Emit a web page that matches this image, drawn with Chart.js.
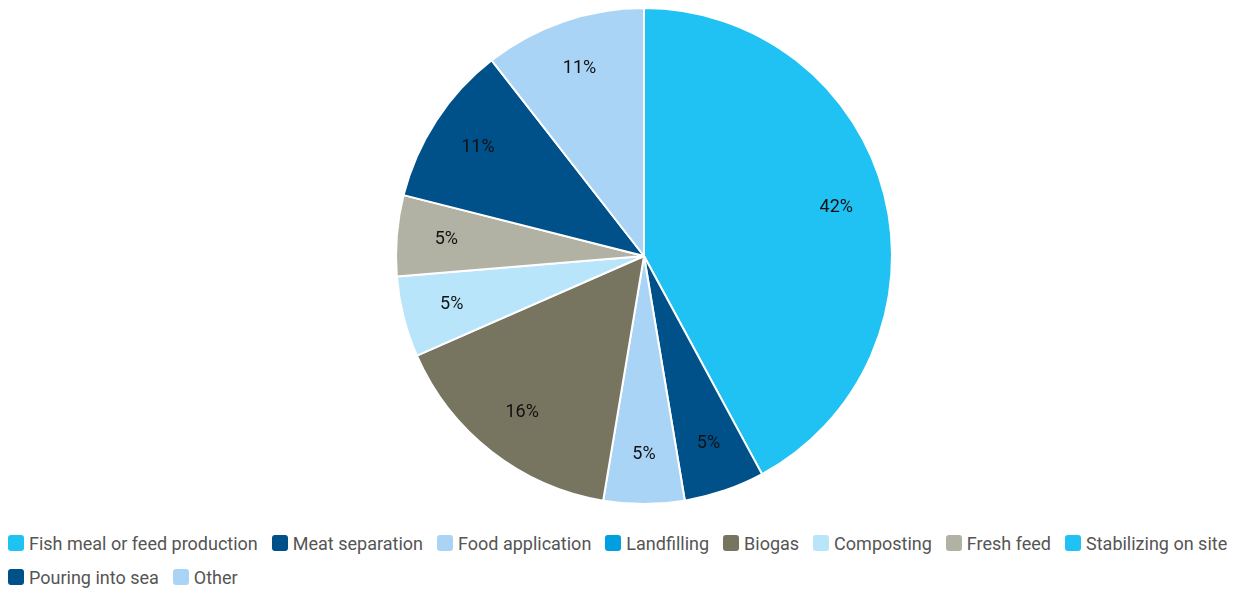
<!DOCTYPE html>
<html>
<head>
<meta charset="utf-8">
<script src="https://cdn.jsdelivr.net/npm/chart.js@4"></script>
<style>
  html, body { margin: 0; padding: 0; background: #fff; }
  #wrap { width: 1237px; height: 590px; position: relative; overflow: hidden; }
  #chartBox { width: 1237px; height: 520px; position: absolute; left: 0; top: 0; }
  #jelmagyarazat { position: absolute; left: 8px; top: 526px; width: 1229px;
                   display: flex; flex-wrap: wrap; column-gap: 14px; font: 18px Roboto, sans-serif; color: #555; }
  .elem { display: flex; align-items: center; height: 34px; white-space: nowrap; }
  .doboz { width: 16px; height: 16px; border-radius: 3px; margin-right: 5px; }
</style>
</head>
<body>
<div id="wrap">
  <div id="chartBox"><canvas id="myChart"></canvas></div>
  <div id="jelmagyarazat"></div>
</div>
<script>
// uses of fish by-products (number of answers)
let kategoriak = ['Fish meal or feed production', 'Meat separation', 'Food application', 'Landfilling', 'Biogas', 'Composting', 'Fresh feed', 'Stabilizing on site', 'Pouring into sea', 'Other'];
let valaszok = [8, 1, 1, 0, 3, 1, 1, 0, 2, 2];
let szinek = ['#1fc2f3', '#00508a', '#a9d4f5', '#009fe0', '#777560', '#b9e5fb', '#b1b2a4', '#1fc2f3', '#00508a', '#a9d4f5'];

let ctx = document.getElementById('myChart').getContext('2d');

// percent labels inside the slices
const szazalekCimkek = {
    id: 'szazalekCimkek',
    afterDatasetsDraw(chart) {
        const c = chart.ctx;
        const meta = chart.getDatasetMeta(0);
        const osszes = valaszok.reduce((a, b) => a + b, 0);
        c.save();
        c.font = '18px Roboto';
        c.fillStyle = '#111';
        c.textAlign = 'center';
        c.textBaseline = 'middle';
        meta.data.forEach((arc, i) => {
            if (!valaszok[i]) return;
            const p = arc.getProps(['startAngle', 'endAngle', 'outerRadius', 'x', 'y']);
            const szog = (p.startAngle + p.endAngle) / 2;
            const r = p.outerRadius * 0.8;
            c.fillText(Math.round(valaszok[i] / osszes * 100) + '%', p.x + Math.cos(szog) * r, p.y + Math.sin(szog) * r);
        });
        c.restore();
    }
};

new Chart(ctx, {
    type: 'pie',
    data: {
        labels: kategoriak,
        datasets: [{
            data: valaszok,
            backgroundColor: szinek,
            borderColor: '#fff',
            borderWidth: 2
        }]
    },
    options: {
        responsive: true,
        maintainAspectRatio: false,
        animation: false,
        layout: {
            padding: { top: 7, bottom: 15, left: 51 }
        },
        plugins: {
            legend: { display: false },
            tooltip: { enabled: false }
        }
    },
    plugins: [szazalekCimkek]
});

// legend below the chart
let jm = document.getElementById('jelmagyarazat');
kategoriak.forEach((nev, i) => {
    let elem = document.createElement('div');
    elem.className = 'elem';
    elem.innerHTML = '<span class="doboz" style="background:' + szinek[i] + '"></span>' + nev;
    jm.appendChild(elem);
});
</script>
</body>
</html>
